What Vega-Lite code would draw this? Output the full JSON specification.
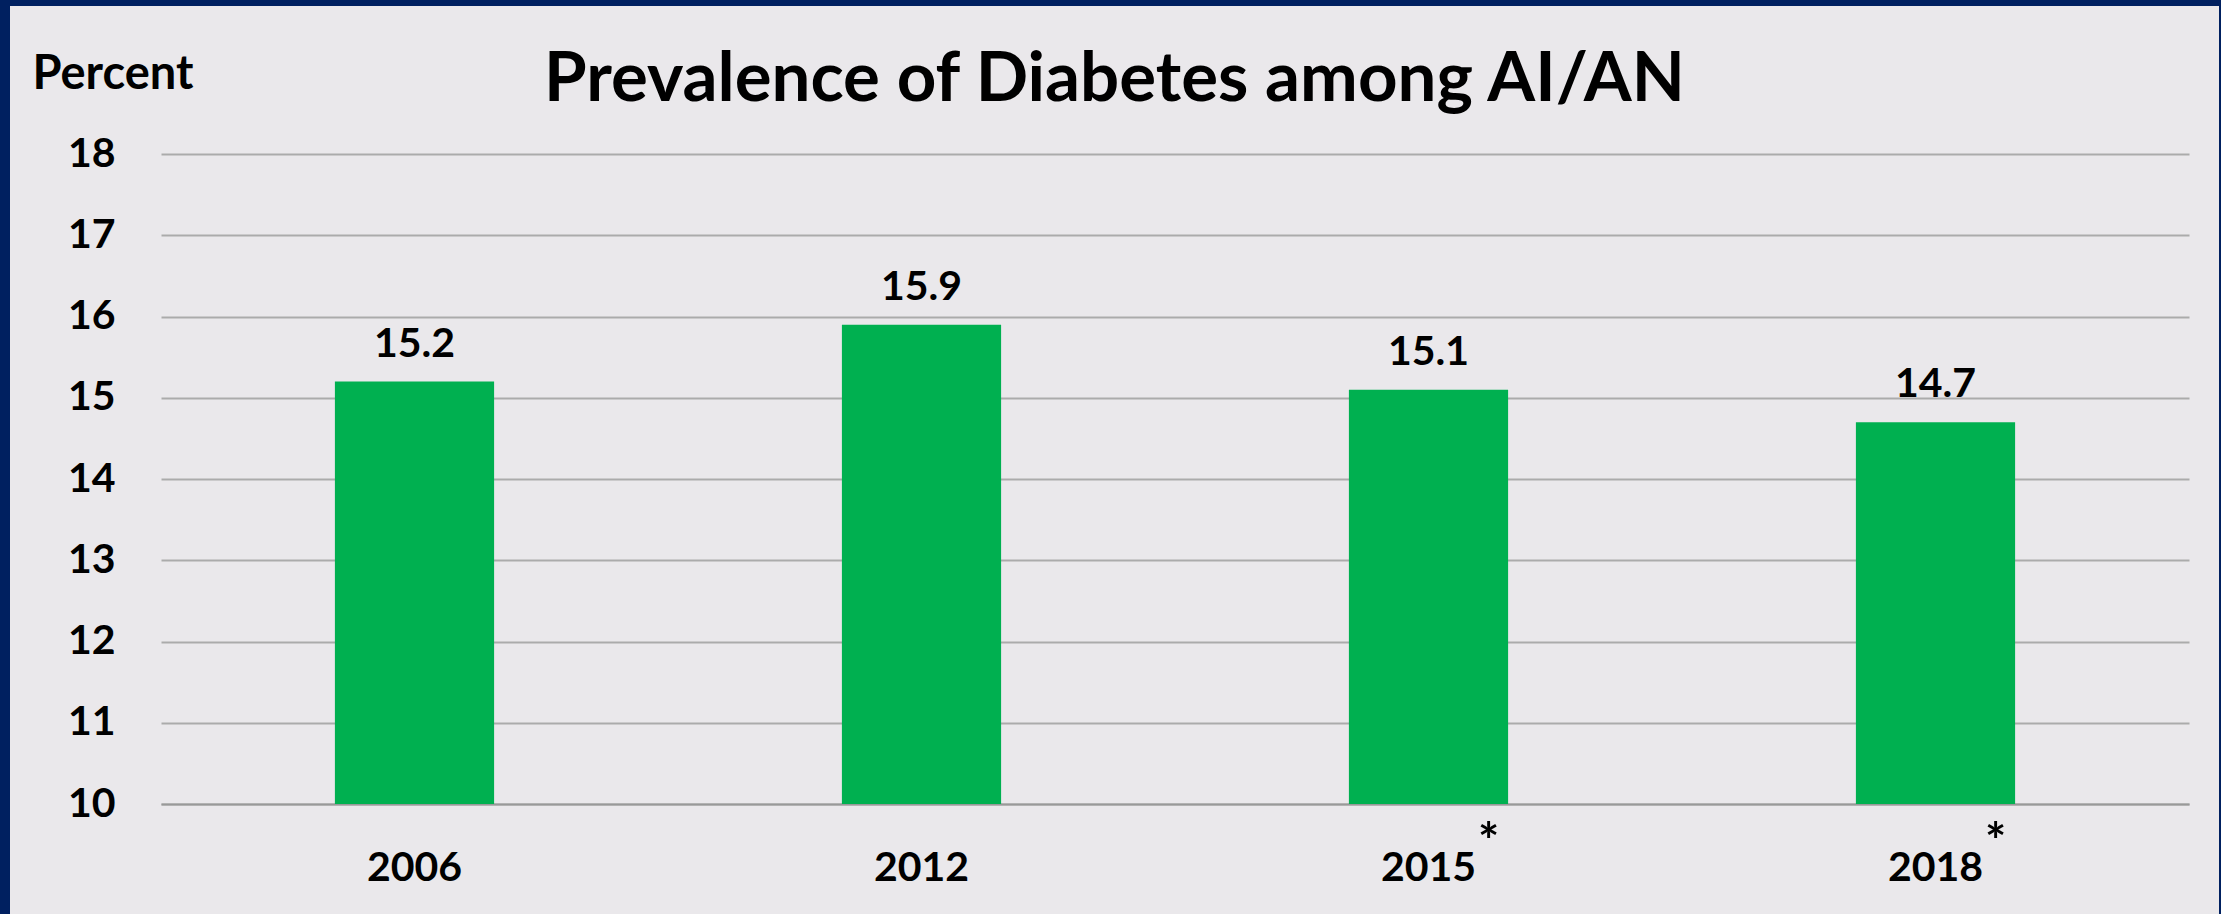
{
  "$schema": "https://vega.github.io/schema/vega-lite/v6.json",
  "width": 2209,
  "height": 908,
  "autosize": {"type": "none"},
  "padding": {"left": 10, "top": 6, "right": 2, "bottom": 0},
  "background": "#002060",
  "config": {
    "view": {"fill": "#EAE8EB", "stroke": null},
    "font": "Lato"
  },
  "title": {
    "text": "Prevalence of Diabetes among AI/AN",
    "font": "Lato",
    "fontSize": 69,
    "fontWeight": "bold",
    "color": "#000000",
    "anchor": "middle",
    "frame": "group",
    "baseline": "alphabetic",
    "offset": -164
  },
  "data": {
    "values": [
      {"year": "2006", "pct": 15.2, "note": ""},
      {"year": "2012", "pct": 15.9, "note": ""},
      {"year": "2015", "pct": 15.1, "note": "*"},
      {"year": "2018", "pct": 14.7, "note": "*"}
    ]
  },
  "encoding": {
    "x": {
      "field": "year",
      "type": "ordinal",
      "sort": null,
      "scale": {"range": [151, 2179], "paddingInner": 0.686, "paddingOuter": 0.343},
      "axis": {
        "orient": "bottom",
        "offset": -110,
        "title": null,
        "grid": false,
        "domain": true,
        "domainColor": "#999999",
        "domainWidth": 2,
        "ticks": false,
        "tickSize": 0,
        "labelAngle": 0,
        "labelPadding": 76,
        "labelBaseline": "alphabetic",
        "labelFont": "Lato",
        "labelFontSize": 41,
        "labelFontWeight": "bold",
        "labelColor": "#000000"
      }
    }
  },
  "layer": [
    {
      "mark": {"type": "bar", "color": "#00B050"},
      "encoding": {
        "y": {
          "field": "pct",
          "type": "quantitative",
          "scale": {"domain": [10, 18], "range": [798, 148], "nice": false, "zero": false},
          "axis": {
            "orient": "left",
            "offset": -105,
            "values": [10, 11, 12, 13, 14, 15, 16, 17, 18],
            "format": "d",
            "domain": false,
            "ticks": false,
            "tickSize": 0,
            "labelPadding": 0,
            "labelFont": "Lato",
            "labelFontSize": 41,
            "labelFontWeight": "bold",
            "labelColor": "#000000",
            "grid": true,
            "gridColor": "#ABABAB",
            "gridWidth": 2,
            "title": "Percent",
            "titleAngle": 0,
            "titleX": -83,
            "titleY": 82,
            "titleAlign": "left",
            "titleBaseline": "alphabetic",
            "titleFont": "Lato",
            "titleFontSize": 47,
            "titleFontWeight": "bold",
            "titleColor": "#000000"
          }
        },
        "y2": {"datum": 10}
      }
    },
    {
      "mark": {"type": "text", "baseline": "alphabetic", "dy": -25, "font": "Lato", "fontSize": 41, "fontWeight": "bold", "color": "#000000"},
      "encoding": {
        "y": {"field": "pct", "type": "quantitative"},
        "text": {"field": "pct", "type": "quantitative", "format": ".1f"}
      }
    },
    {
      "mark": {"type": "text", "baseline": "alphabetic", "dx": 60, "dy": 55, "font": "Lato", "fontSize": 50, "fontWeight": "bold", "color": "#000000"},
      "encoding": {
        "y": {"datum": 10},
        "text": {"field": "note"}
      }
    }
  ]
}
